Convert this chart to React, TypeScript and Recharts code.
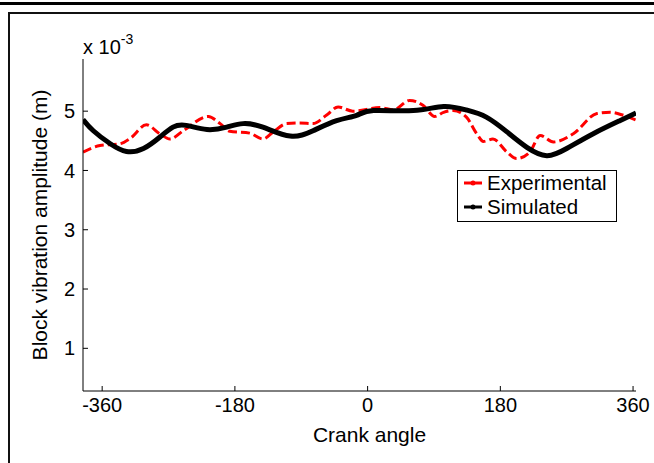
import React from "react";
import { LineChart, Line, XAxis, YAxis } from "recharts";

// crank angle (deg) and measured block vibration amplitude (x 10^-3 m)
const expAngle = [
  -386, -363, -336, -322, -300, -282, -268, -250, -216, -200, -187, -160, -142,
  -128, -110, -92, -74, -56, -40, -20, 17, 35, 57, 75, 91, 103, 116, 134, 148,
  157, 170, 189, 202, 220, 234, 252, 279, 311, 329, 347, 364,
];
const expAmp = [
  4.31, 4.42, 4.45, 4.54, 4.77, 4.62, 4.53, 4.67, 4.91, 4.79, 4.66, 4.63, 4.53,
  4.65, 4.79, 4.8, 4.79, 4.93, 5.07, 5.0, 5.06, 5.02, 5.18, 5.1, 4.91, 4.98,
  5.01, 4.9, 4.62, 4.49, 4.53, 4.31, 4.2, 4.31, 4.59, 4.48, 4.62, 4.96, 4.98,
  4.93, 4.85,
];

// simulated amplitude
const simAngle = [
  -386, -372, -349, -327, -304, -282, -264, -246, -218, -191, -169, -142, -105,
  -74, -42, -15, 8, 62, 103, 134, 161, 189, 216, 243, 270, 306, 342, 364,
];
const simAmp = [
  4.86, 4.67, 4.45, 4.32, 4.37, 4.56, 4.73, 4.76, 4.69, 4.73, 4.79, 4.73, 4.58,
  4.67, 4.84, 4.93, 5.01, 5.01, 5.08, 5.02, 4.9, 4.65, 4.39, 4.25, 4.37, 4.62,
  4.84, 4.97,
];

const xTicks = [-360, -180, 0, 180, 360];
const yTicks = [1, 2, 3, 4, 5];

const experimental = expAngle.map((a, i) => ({ angle: a, amp: expAmp[i] }));
const simulated = simAngle.map((a, i) => ({ angle: a, amp: simAmp[i] }));

const FONT = "'Liberation Sans', Arial, sans-serif";
const tickStyle = { fill: "#000", fontSize: 20, fontFamily: FONT };
const labelStyle = { fill: "#000", fontSize: 21, fontFamily: FONT };

const legendRows = [
  { name: "Experimental", color: "#ff0000" },
  { name: "Simulated", color: "#000" },
];

function LegendBox() {
  return (
    <div
      style={{
        position: "absolute",
        left: 457,
        top: 170,
        width: 158,
        height: 50,
        border: "1px solid #000",
        background: "#fff",
        fontFamily: FONT,
        fontSize: 20.5,
        color: "#000",
      }}
    >
      {legendRows.map((r) => (
        <div
          key={r.name}
          style={{ display: "flex", alignItems: "center", height: 24, paddingLeft: 5 }}
        >
          <svg width={20} height={10} style={{ marginRight: 4 }}>
            <line x1={1} y1={5} x2={19} y2={5} stroke={r.color} strokeWidth={3} />
            <circle cx={10} cy={5} r={2.5} fill={r.color} />
          </svg>
          <span>{r.name}</span>
        </div>
      ))}
    </div>
  );
}

export default function App() {
  return (
    <div
      style={{
        position: "absolute",
        left: 0,
        top: 0,
        width: 654,
        height: 463,
        background: "#fff",
        overflow: "hidden",
      }}
    >
      {/* page frame */}
      <div style={{ position: "absolute", left: 0, top: 2, width: 654, height: 3, background: "#000" }} />
      <div style={{ position: "absolute", left: 8, top: 12, width: 646, height: 2, background: "#111" }} />
      <div style={{ position: "absolute", left: 8, top: 12, width: 2, height: 451, background: "#111" }} />

      {/* exponent note */}
      <div
        style={{
          position: "absolute",
          left: 83,
          top: 29,
          fontFamily: FONT,
          fontSize: 20,
          color: "#000",
          whiteSpace: "nowrap",
          lineHeight: "24px",
        }}
      >
        x 10<sup style={{ fontSize: 14, position: "relative", top: -2 }}>-3</sup>
      </div>

      <div style={{ position: "absolute", left: 0, top: 0 }}>
        <LineChart
          width={654}
          height={463}
          margin={{ top: 59, right: 18, bottom: 42, left: 23 }}
        >
          <XAxis
            xAxisId="bottom"
            dataKey="angle"
            type="number"
            domain={[-386, 364]}
            ticks={xTicks}
            allowDataOverflow
            height={30}
            stroke="#000"
            tickSize={-5}
            tickMargin={12}
            tick={tickStyle}
            label={{
              value: "Crank angle",
              position: "bottom",
              offset: 6,
              dx: 10,
              style: labelStyle,
            }}
          />
          <XAxis
            xAxisId="top"
            orientation="top"
            dataKey="angle"
            type="number"
            domain={[-386, 364]}
            ticks={xTicks}
            allowDataOverflow
            height={0}
            stroke="#000"
            tickSize={-5}
            tick={false}
          />
          <YAxis
            yAxisId="left"
            type="number"
            domain={[0.28, 5.88]}
            ticks={yTicks}
            allowDataOverflow
            width={60}
            stroke="#000"
            tickSize={-5}
            tickMargin={13}
            tick={tickStyle}
            label={{
              value: "Block vibration amplitude (m)",
              angle: -90,
              position: "insideLeft",
              dx: 12,
              style: { ...labelStyle, textAnchor: "middle" },
            }}
          />
          <YAxis
            yAxisId="right"
            orientation="right"
            type="number"
            domain={[0.28, 5.88]}
            ticks={yTicks}
            allowDataOverflow
            width={0}
            stroke="#000"
            tickSize={-5}
            tick={false}
          />
          <Line
            xAxisId="bottom"
            yAxisId="left"
            data={experimental}
            dataKey="amp"
            name="Experimental"
            type="monotone"
            stroke="#ff0000"
            strokeWidth={3}
            strokeDasharray="9 4"
            dot={false}
            isAnimationActive={false}
          />
          <Line
            xAxisId="bottom"
            yAxisId="left"
            data={simulated}
            dataKey="amp"
            name="Simulated"
            type="natural"
            stroke="#000"
            strokeWidth={5}
            dot={false}
            isAnimationActive={false}
          />
        </LineChart>
      </div>

      <LegendBox />
    </div>
  );
}
